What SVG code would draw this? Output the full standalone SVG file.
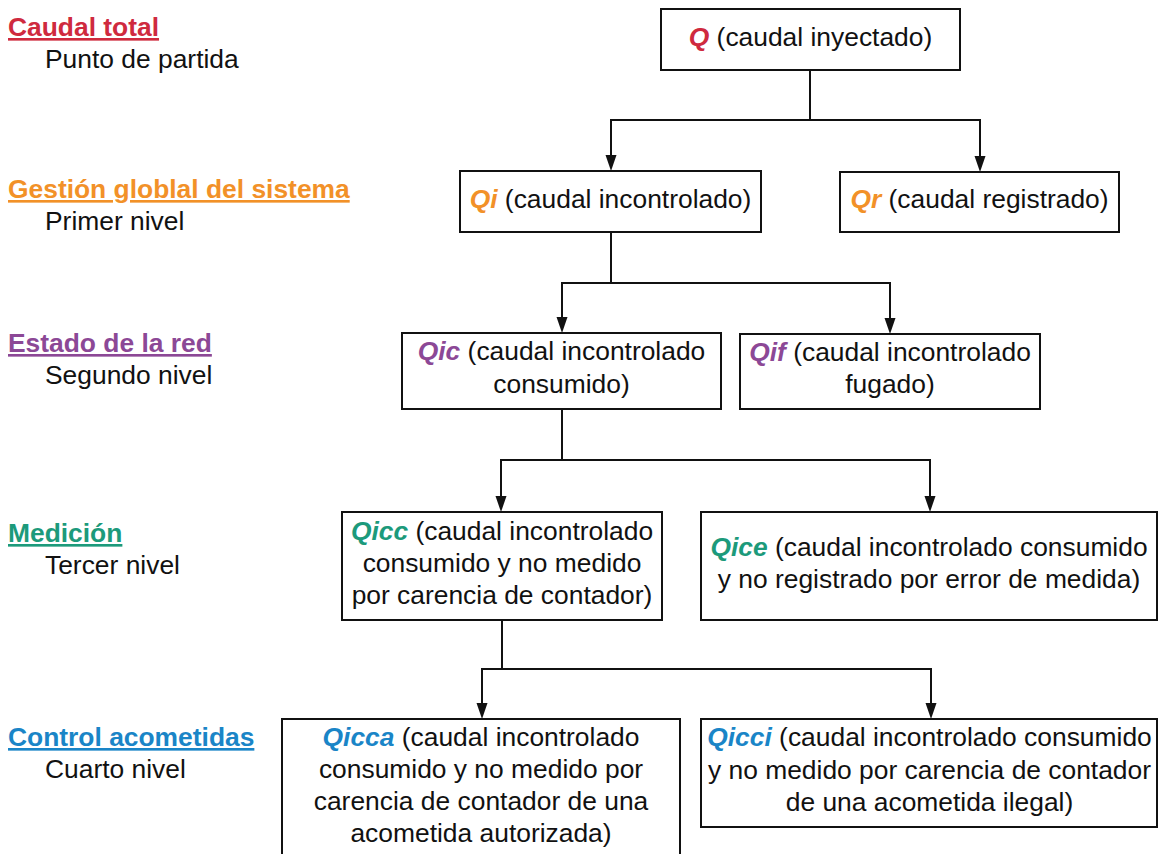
<svg xmlns="http://www.w3.org/2000/svg" width="1159" height="854" viewBox="0 0 1159 854">
  <style>
    text { font-family: "Liberation Sans", Arial, sans-serif; font-size: 26.4px; fill: #111; }
    .hd { font-weight: bold; text-decoration: underline; }
    .box { fill: #fff; stroke: #111; stroke-width: 2; }
    .c { text-anchor: middle; }
    .k { font-weight: bold; font-style: italic; }
    .red { fill: #cf2a3e; }
    .org { fill: #f29128; }
    .pur { fill: #8c4896; }
    .grn { fill: #1c9a7b; }
    .blu { fill: #1a85c7; }
    .ln { fill: none; stroke: #111; stroke-width: 2; }
  </style>
  <defs>
    <marker id="arr" markerUnits="userSpaceOnUse" markerWidth="16" markerHeight="12" refX="10" refY="5.5" orient="auto">
      <path d="M0,0 L16,5.5 L0,11 z" fill="#111"/>
    </marker>
  </defs>
  <rect width="1159" height="854" fill="#fff"/>

  <g id="legend">
    <text class="hd red" x="8" y="36">Caudal total</text>
    <text x="45" y="68">Punto de partida</text>
    <text class="hd org" x="8" y="198">Gestión globlal del sistema</text>
    <text x="45" y="230">Primer nivel</text>
    <text class="hd pur" x="8" y="352">Estado de la red</text>
    <text x="45" y="384">Segundo nivel</text>
    <text class="hd grn" x="8" y="542">Medición</text>
    <text x="45" y="574">Tercer nivel</text>
    <text class="hd blu" x="8" y="746">Control acometidas</text>
    <text x="45" y="778">Cuarto nivel</text>
  </g>

  <g id="connectors">
    <path class="ln" d="M810,70 V120 M610,120 H981"/>
    <path class="ln" d="M611,119 V165" marker-end="url(#arr)"/>
    <path class="ln" d="M980,119 V166" marker-end="url(#arr)"/>
    <path class="ln" d="M611,232 V283 M561,283 H891"/>
    <path class="ln" d="M562,282 V327" marker-end="url(#arr)"/>
    <path class="ln" d="M890,282 V328" marker-end="url(#arr)"/>
    <path class="ln" d="M562,409 V460 M500,460 H931"/>
    <path class="ln" d="M501,459 V506" marker-end="url(#arr)"/>
    <path class="ln" d="M930,459 V506" marker-end="url(#arr)"/>
    <path class="ln" d="M502,620 V669 M481,669 H932"/>
    <path class="ln" d="M482,668 V713" marker-end="url(#arr)"/>
    <path class="ln" d="M931,668 V713" marker-end="url(#arr)"/>
  </g>

  <g id="Q">
    <rect class="box" x="661" y="9" width="299" height="61"/>
    <text class="c" x="810.5" y="46"><tspan class="k red">Q</tspan> (caudal inyectado)</text>
  </g>
  <g id="Qi">
    <rect class="box" x="460" y="171" width="301" height="61"/>
    <text class="c" x="610.5" y="208"><tspan class="k org">Qi</tspan> (caudal incontrolado)</text>
  </g>
  <g id="Qr">
    <rect class="box" x="840" y="172" width="279" height="60"/>
    <text class="c" x="979.5" y="208"><tspan class="k org">Qr</tspan> (caudal registrado)</text>
  </g>
  <g id="Qic">
    <rect class="box" x="402" y="333" width="319" height="76"/>
    <text class="c" x="561.5" y="360"><tspan class="k pur">Qic</tspan> (caudal incontrolado</text>
    <text class="c" x="561.5" y="393">consumido)</text>
  </g>
  <g id="Qif">
    <rect class="box" x="740" y="334" width="300" height="75"/>
    <text class="c" x="890" y="361"><tspan class="k pur">Qif</tspan> (caudal incontrolado</text>
    <text class="c" x="890" y="393">fugado)</text>
  </g>
  <g id="Qicc">
    <rect class="box" x="342" y="512" width="320" height="108"/>
    <text class="c" x="502" y="540"><tspan class="k grn">Qicc</tspan> (caudal incontrolado</text>
    <text class="c" x="502" y="572">consumido y no medido</text>
    <text class="c" x="502" y="604">por carencia de contador)</text>
  </g>
  <g id="Qice">
    <rect class="box" x="701" y="512" width="456" height="108"/>
    <text class="c" x="929" y="556"><tspan class="k grn">Qice</tspan> (caudal incontrolado consumido</text>
    <text class="c" x="929" y="588">y no registrado por error de medida)</text>
  </g>
  <g id="Qicca">
    <rect class="box" x="282" y="719" width="398" height="150"/>
    <text class="c" x="481" y="746"><tspan class="k blu">Qicca</tspan> (caudal incontrolado</text>
    <text class="c" x="481" y="778">consumido y no medido por</text>
    <text class="c" x="481" y="810">carencia de contador de una</text>
    <text class="c" x="481" y="842">acometida autorizada)</text>
  </g>
  <g id="Qicci">
    <rect class="box" x="701" y="719" width="456" height="108"/>
    <text class="c" x="929.5" y="746"><tspan class="k blu">Qicci</tspan> (caudal incontrolado consumido</text>
    <text class="c" x="929.5" y="779">y no medido por carencia de contador</text>
    <text class="c" x="929.5" y="811">de una acometida ilegal)</text>
  </g>
</svg>
